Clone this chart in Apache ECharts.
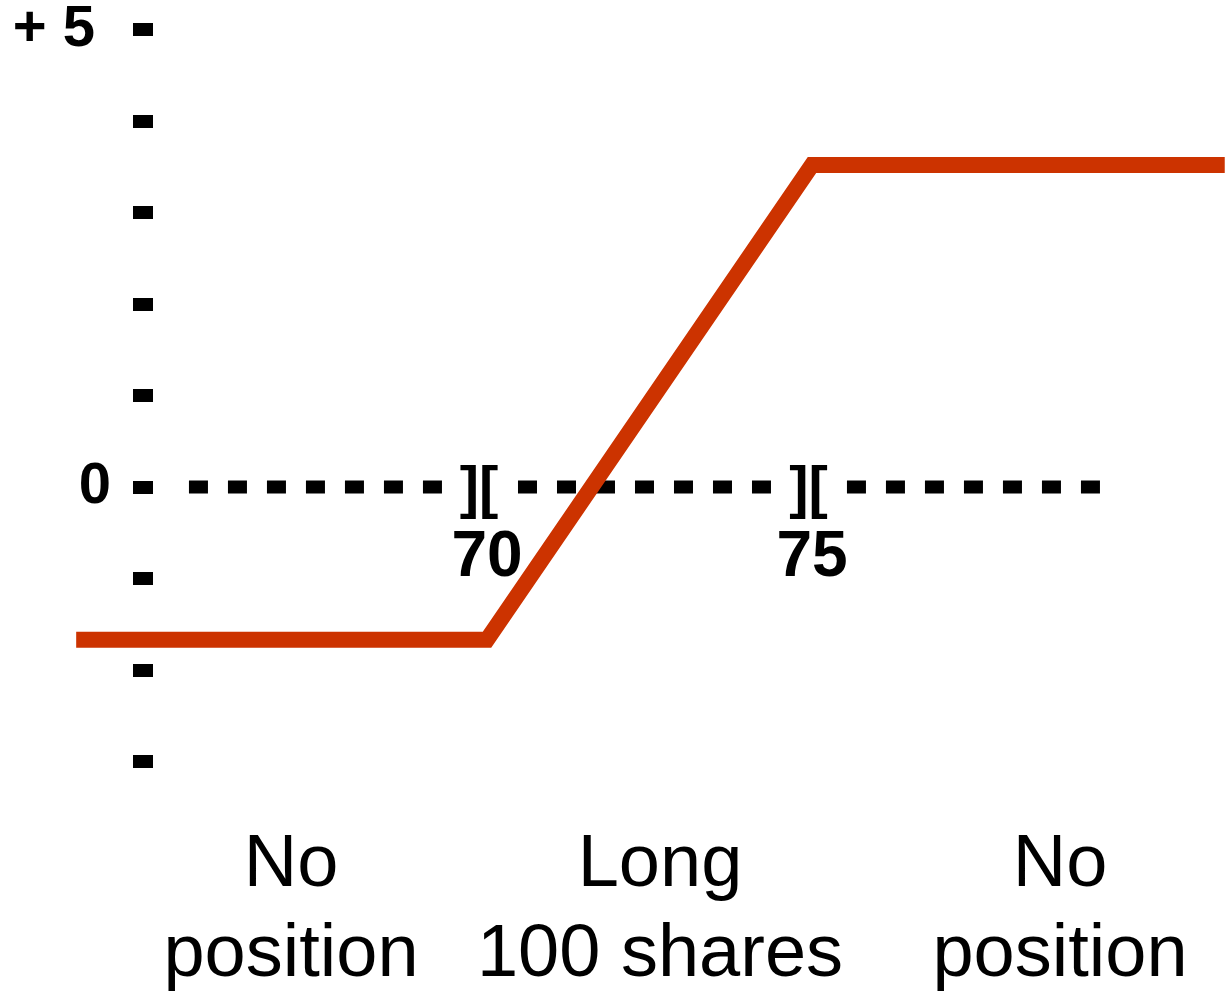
<!DOCTYPE html>
<html>
<head>
<meta charset="utf-8">
<title>Long 100 shares payoff</title>
<script src="https://cdn.jsdelivr.net/npm/echarts@6/dist/echarts.min.js"></script>
<style>
  html, body { margin: 0; padding: 0; background: #fff; }
  #chartHome { width: 1225px; height: 993px; }
</style>
</head>
<body>
<div id="chartHome"></div>
<script>
// payoff line (stock price, profit)
var payoffX = [63.68, 70, 75, 81.35];
var payoffY = [-1.67, -1.67, 3.52, 3.52];

// dashed zero line, broken at the strikes
var zeroSegStart = [65.415, 70.477, 75.538];
var zeroSegEnd = [69.308, 74.369, 79.431];

// "][" markers and strike labels
var strikeMarkX = [69.877, 74.946];
var strikeLabels = [70, 75];

// y ticks and the two labelled values
var yMin = -3;
var yMax = 5;
var yLabels = { '5': '+ 5 ', '0': '0' };

// position labels under the chart
var regionLabels = ['No\nposition', 'Long\n100 shares', 'No\nposition'];
var regionCenters = [291, 660, 1060];

var FONT = '"Liberation Sans", Arial, sans-serif';

var seriesList = [];
for (var i = 0; i < zeroSegStart.length; i++) {
  seriesList.push({
    type: 'line',
    data: [[zeroSegStart[i], 0], [zeroSegEnd[i], 0]],
    symbol: 'none',
    silent: true,
    lineStyle: { color: '#000', width: 13, type: [19, 20], cap: 'butt' }
  });
}
seriesList.push({
  type: 'scatter',
  data: strikeMarkX.map(function (x) { return [x, 0]; }),
  symbolSize: 1,
  itemStyle: { color: 'rgba(0,0,0,0)', opacity: 1 },
  silent: true,
  label: {
    show: true,
    position: 'inside',
    offset: [0, 4],
    formatter: '][',
    color: '#000',
    opacity: 1,
    textBorderWidth: 0,
    fontFamily: FONT,
    fontWeight: 'bold',
    fontSize: 58
  }
});
seriesList.push({
  type: 'line',
  data: payoffX.map(function (x, k) { return [x, payoffY[k]]; }),
  symbol: 'none',
  silent: true,
  lineStyle: { color: '#cc3300', width: 16, join: 'miter' }
});

var chart = echarts.init(document.getElementById('chartHome'));
chart.setOption({
  animation: false,
  backgroundColor: '#fff',
  grid: { left: 0, right: 0, top: 29.5, bottom: 231.5 },
  xAxis: {
    type: 'value',
    min: 62.508,
    max: 81.354,
    offset: -274.5,
    axisLine: { show: false },
    axisTick: { show: false },
    splitLine: { show: false },
    axisLabel: {
      customValues: strikeLabels,
      margin: 39.5,
      color: '#000',
      fontFamily: FONT,
      fontWeight: 'bold',
      fontSize: 64,
      lineHeight: 64
    }
  },
  yAxis: {
    type: 'value',
    min: yMin,
    max: yMax,
    interval: 1,
    offset: -153,
    axisLine: { show: false },
    splitLine: { show: false },
    axisTick: {
      show: true,
      length: 20,
      lineStyle: { color: '#000', width: 13 }
    },
    axisLabel: {
      margin: 42,
      color: '#000',
      fontFamily: FONT,
      fontWeight: 'bold',
      fontSize: 58,
      formatter: function (v) { return yLabels[String(v)] || ''; }
    }
  },
  graphic: regionLabels.map(function (t, k) {
    return {
      type: 'text',
      x: regionCenters[k],
      y: 911,
      style: {
        text: t,
        fill: '#000',
        fontFamily: FONT,
        fontSize: 74,
        lineHeight: 90,
        textAlign: 'center',
        textVerticalAlign: 'middle'
      }
    };
  }),
  series: seriesList
});
</script>
</body>
</html>
